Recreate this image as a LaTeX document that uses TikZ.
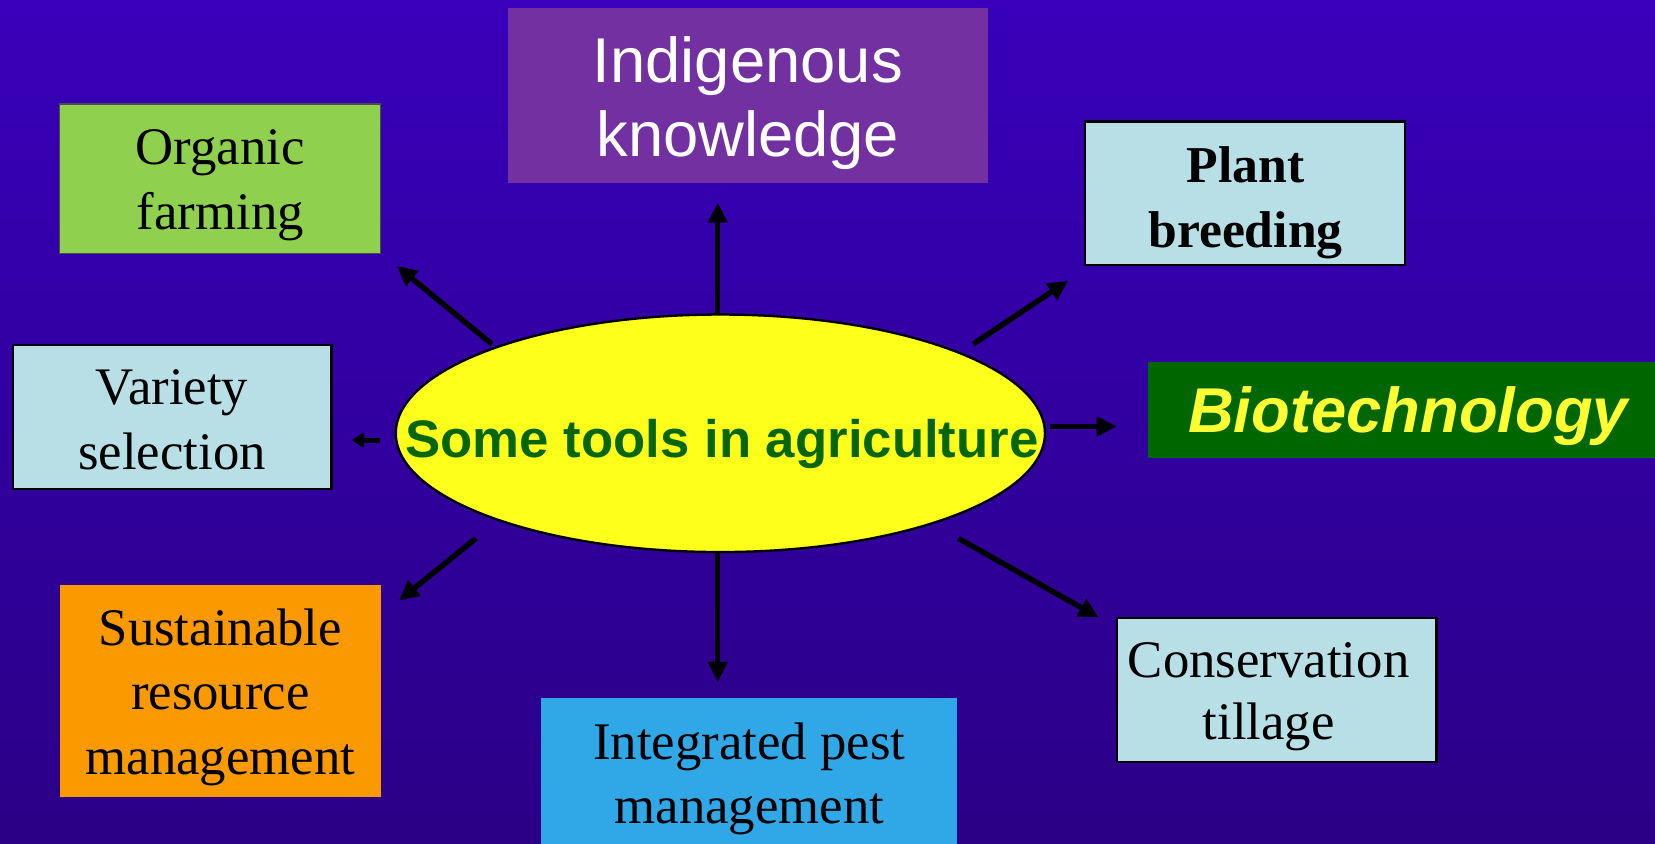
\documentclass[tikz,border=0pt]{standalone}
\usepackage{fontspec}
\setmainfont{Liberation Serif}
\newfontfamily\arialf{Liberation Sans}
\usetikzlibrary{arrows.meta,shapes.geometric}
\definecolor{bgtop}{HTML}{3800BA}
\definecolor{bgmid}{HTML}{4300DA}
\definecolor{bgbot}{HTML}{2B0086}
\definecolor{orggreen}{HTML}{8FD14F}
\definecolor{indpurple}{HTML}{7230A0}
\definecolor{paleblue}{HTML}{B8DFE6}
\definecolor{orangebox}{HTML}{FA9A00}
\definecolor{ipmblue}{HTML}{30A8E8}
\definecolor{biogreen}{HTML}{006600}
\definecolor{bioyellow}{HTML}{FFFF33}
\definecolor{ellyellow}{HTML}{FFFF1C}
\definecolor{elltext}{HTML}{08660A}
\tikzset{
  boxshape/.style={rectangle, inner sep=0pt},
  txt/.style={inner sep=0pt, align=center, text=black},
  arr/.style={draw=black, line width=5.2pt, -{Triangle[length=19pt,width=18pt]}},
  smallarr/.style={draw=black, line width=5pt, -{Triangle[length=12pt,width=14pt]}}
}
\begin{document}
\begin{tikzpicture}[x=1pt,y=-1pt]
\useasboundingbox (0,0) rectangle (1568,798.7);
\shade[top color=bgtop, middle color=bgmid, bottom color=bgbot] (0,0) rectangle (1568,798.7);
% boxes
\node[boxshape, fill=orggreen, draw=black!70, line width=1pt, minimum width=304pt, minimum height=141.5pt] (org) at (208.8,169.3) {};
\node[boxshape, fill=indpurple, minimum width=455pt, minimum height=166pt] (ind) at (708.5,90.8) {};
\node[boxshape, fill=paleblue, draw=black, line width=2.2pt, minimum width=303pt, minimum height=136pt] (plant) at (1179.5,183.2) {};
\node[boxshape, fill=paleblue, draw=black, line width=2.2pt, minimum width=302pt, minimum height=136pt] (var) at (163,395) {};
\node[ellipse, fill=ellyellow, draw=black, line width=2.2pt, inner sep=0pt, minimum width=615pt, minimum height=225pt] (ell) at (682.5,410.5) {};
\node[boxshape, fill=biogreen, minimum width=480pt, minimum height=91.5pt] (bio) at (1328,388.5) {};
\node[boxshape, fill=orangebox, minimum width=304pt, minimum height=201pt] (sus) at (208.8,654.4) {};
\node[boxshape, fill=ipmblue, minimum width=394pt, minimum height=154pt] (ipm) at (710,738) {};
\node[boxshape, fill=paleblue, draw=black, line width=2.2pt, minimum width=303pt, minimum height=136pt] (con) at (1209.5,653.7) {};
% texts
\node[txt, font=\fontsize{50}{62}\selectfont] (orgT) at (208.8,175.4) {Organic\\farming};
\node[txt, text=white, font=\arialf\fontsize{60}{71}\selectfont] (indT) at (708.5,97.7) {Indigenous\\knowledge};
\node[txt, font=\bfseries\fontsize{49}{61}\selectfont] (plantT) at (1180,192) {Plant\\breeding};
\node[txt, font=\fontsize{50}{62}\selectfont] (varT) at (163,397.6) {Variety\\selection};
\node[txt, text=elltext, font=\arialf\bfseries\fontsize{50}{60}\selectfont] (ellT) at (684,421) {Some tools in agriculture};
\node[txt, text=bioyellow, font=\arialf\bfseries\itshape\fontsize{60}{70}\selectfont] (bioT) at (1334,393.8) {Biotechnology};
\node[txt, font=\fontsize{50}{61}\selectfont] (susT) at (208.8,660.4) {Sustainable\\resource\\management};
\node[txt, font=\fontsize{50}{60}\selectfont] (ipmT) at (710,738) {Integrated pest\\management};
\node[txt, font=\fontsize{50}{58.5}\selectfont] (conT) at (1202,660.2) {Conservation\\tillage};
% arrow end points
\coordinate (aOrgS) at (466,326); \coordinate (aOrgE) at (376,252);
\coordinate (aIndS) at (680,297); \coordinate (aIndE) at (680,192);
\coordinate (aPlaS) at (922,326); \coordinate (aPlaE) at (1012,266);
\coordinate (aVarS) at (360,417); \coordinate (aVarE) at (333,417);
\coordinate (aBioS) at (995,404); \coordinate (aBioE) at (1058,404);
\coordinate (aSusS) at (451,510); \coordinate (aSusE) at (378,569);
\coordinate (aIpmS) at (680,523); \coordinate (aIpmE) at (680,646);
\coordinate (aConS) at (908,510); \coordinate (aConE) at (1041,585);
\draw[arr] (aOrgS) -- (aOrgE);
\draw[arr] (aIndS) -- (aIndE);
\draw[arr] (aPlaS) -- (aPlaE);
\draw[smallarr] (aVarS) -- (aVarE);
\draw[arr] (aBioS) -- (aBioE);
\draw[arr] (aSusS) -- (aSusE);
\draw[arr] (aIpmS) -- (aIpmE);
\draw[arr] (aConS) -- (aConE);
\end{tikzpicture}
\end{document}
